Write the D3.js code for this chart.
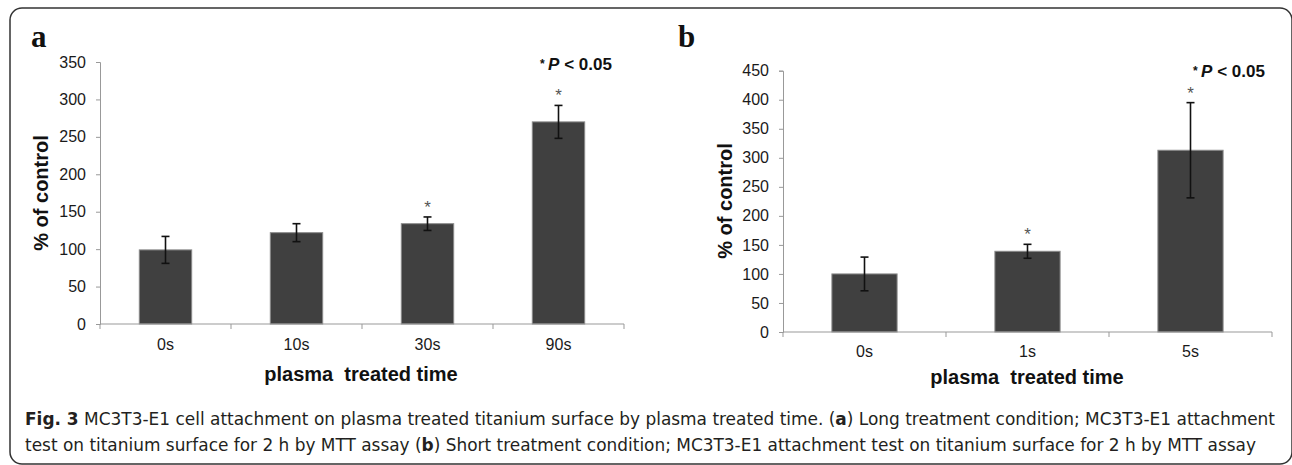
<!DOCTYPE html>
<html>
<head>
<meta charset="utf-8">
<script src="https://cdn.jsdelivr.net/npm/d3@7"></script>
<style>
    body { margin:0; background:#fff; }
    svg { display:block; }
    .tick-label { font-family:'Liberation Sans', Arial, sans-serif; font-size:16px; fill:#1a1a1a; }
    .axis-title { font-family:'Liberation Sans', Arial, sans-serif; font-size:20px; font-weight:bold; fill:#111; }
    .panel-label { font-family:'Liberation Serif', 'Times New Roman', serif; font-size:31px; font-weight:bold; fill:#111; }
    .caption { font-family:'Liberation Sans Narrow', 'DejaVu Sans Condensed', 'Liberation Sans', sans-serif; font-size:18px; fill:#231f20; }
</style>
</head>
<body>
<div class="chart-container"></div>
<script>
// // Data: 讀圖估計的數值
// panel a: long treatment
const catsA = ['0s', '10s', '30s', '90s'];
const meansA = [99, 122, 134, 270];
const errsA = [18, 12, 9, 22];
const starsA = [false, false, true, true];
const ticksA = [0, 50, 100, 150, 200, 250, 300, 350];

// panel b: short treatment
const catsB = ['0s', '1s', '5s'];
const meansB = [100, 139, 313];
const errsB = [29, 12, 82];
const starsB = [false, true, true];
const ticksB = [0, 50, 100, 150, 200, 250, 300, 350, 400, 450];

const captionLines = [
    [['Fig. 3', true], [' MC3T3-E1 cell attachment on plasma treated titanium surface by plasma treated time. (', false], ['a', true], [') Long treatment condition; MC3T3-E1 attachment', false]],
    [['test on titanium surface for 2 h by MTT assay (', false], ['b', true], [') Short treatment condition; MC3T3-E1 attachment test on titanium surface for 2 h by MTT assay', false]]
];

const svg_width = 1292;
const svg_height = 465;

const svg = d3.select('.chart-container').append('svg')
              .attr('width', svg_width).attr('height', svg_height);

// 外框 (圓角)
svg.append('rect')
   .attr('x', 10).attr('y', 8)
   .attr('width', 1282).attr('height', 456)
   .attr('rx', 12).attr('ry', 12)
   .style('fill', 'none').style('stroke', '#333').style('stroke-width', 1.5);

// // 畫一個panel
// opt: 版面位置 (軸的像素範圍)
function drawPanel(cats, means, errs, stars, ticks, opt){
    const g = svg.append('g');

    const yScale = d3.scaleLinear()
                     .domain([0, d3.max(ticks)])
                     .range([opt.y0, opt.y1]);

    const xScale = d3.scaleBand()
                     .domain(cats)
                     .range([opt.x0, opt.x1])
                     .paddingInner(0.6)
                     .paddingOuter(0.3);

    // y軸
    const yAxis = d3.axisLeft(yScale).tickValues(ticks).tickSize(4).tickPadding(10);
    const yAxisDraw = g.append('g')
                       .attr('transform', `translate(${opt.x0},0)`)
                       .call(yAxis);
    yAxisDraw.select('.domain').style('stroke', '#999');
    yAxisDraw.selectAll('.tick line').style('stroke', '#999');
    yAxisDraw.selectAll('.tick text').attr('class', 'tick-label').attr('font-size', null).attr('font-family', null);

    // bars
    g.selectAll('.bar').data(means).join('rect')
     .attr('class', 'bar')
     .attr('x', (d, i) => xScale(cats[i]))
     .attr('y', d => yScale(d))
     .attr('width', xScale.bandwidth())
     .attr('height', d => yScale(0) - yScale(d))
     .style('fill', '#404040')
     .style('stroke', '#8a8a8a')
     .style('stroke-width', 1);

    // x軸: 線跟分隔刻度
    g.append('line')
     .attr('x1', opt.x0).attr('x2', opt.x1)
     .attr('y1', yScale(0)).attr('y2', yScale(0))
     .style('stroke', '#999').style('stroke-width', 1);
    const bounds = d3.range(cats.length + 1).map(i => opt.x0 + i * xScale.step());
    g.selectAll('.xtick').data(bounds).join('line')
     .attr('x1', d => d).attr('x2', d => d)
     .attr('y1', yScale(0)).attr('y2', yScale(0) + 5)
     .style('stroke', '#999');

    // x 標籤
    g.selectAll('.xlabel').data(cats).join('text')
     .attr('class', 'tick-label')
     .attr('x', d => xScale(d) + xScale.bandwidth() / 2)
     .attr('y', yScale(0) + opt.labelGap)
     .attr('text-anchor', 'middle')
     .text(d => d);

    // error bars
    const cx = i => xScale(cats[i]) + xScale.bandwidth() / 2;
    const eb = g.append('g').style('stroke', '#111').style('stroke-width', 1.6);
    means.forEach((m, i) => {
        const top = yScale(m + errs[i]);
        const bot = yScale(m - errs[i]);
        eb.append('line').attr('x1', cx(i)).attr('x2', cx(i)).attr('y1', top).attr('y2', bot);
        eb.append('line').attr('x1', cx(i) - 4).attr('x2', cx(i) + 4).attr('y1', top).attr('y2', top);
        eb.append('line').attr('x1', cx(i) - 4).attr('x2', cx(i) + 4).attr('y1', bot).attr('y2', bot);
    });

    // 顯著性星號
    g.selectAll('.star').data(means.map((m, i) => ({m, i})).filter(d => stars[d.i])).join('text')
     .attr('x', d => cx(d.i))
     .attr('y', d => yScale(d.m + errs[d.i]) - 4)
     .attr('text-anchor', 'middle')
     .style('font-family', "'Liberation Sans', Arial, sans-serif")
     .style('font-size', '17px')
     .style('fill', '#555')
     .text('*');

    // * P < 0.05
    const pText = g.append('text')
                   .attr('x', opt.pX).attr('y', opt.pY)
                   .attr('text-anchor', 'middle')
                   .style('font-family', "'Liberation Sans', Arial, sans-serif")
                   .style('font-weight', 'bold')
                   .style('font-size', '17px')
                   .style('fill', '#111');
    pText.append('tspan').text('* ').style('font-size', '12px').attr('dy', -2);
    pText.append('tspan').text('P').style('font-style', 'italic').attr('dy', 2);
    pText.append('tspan').text(' < 0.05');

    // 軸標題
    g.append('text')
     .attr('class', 'axis-title')
     .attr('x', opt.xTitleX).attr('y', opt.xTitleY)
     .attr('text-anchor', 'middle')
     .attr('xml:space', 'preserve')
     .text('plasma  treated time');

    g.append('text')
     .attr('class', 'axis-title')
     .attr('transform', `translate(${opt.yTitleX},${opt.yTitleY}) rotate(-90)`)
     .attr('text-anchor', 'middle')
     .text('% of control');

    // panel 字母
    g.append('text')
     .attr('class', 'panel-label')
     .attr('x', opt.labelX).attr('y', 47)
     .text(opt.label);
}

drawPanel(catsA, meansA, errsA, starsA, ticksA, {
    x0:100, x1:624, y0:324, y1:62, labelGap:26,
    pX:576, pY:70, xTitleX:361, xTitleY:381,
    yTitleX:48, yTitleY:193, labelX:31, label:'a'
});

drawPanel(catsB, meansB, errsB, starsB, ticksB, {
    x0:783, x1:1272, y0:332, y1:70.7, labelGap:25,
    pX:1229, pY:77, xTitleX:1027, xTitleY:384,
    yTitleX:732, yTitleY:201, labelX:678, label:'b'
});

// // caption
const capEnds = [1275, 1256];
const capY = [425, 451];
captionLines.forEach((line, li) => {
    const t = svg.append('text')
                 .attr('class', 'caption')
                 .attr('x', 25).attr('y', capY[li])
                 .attr('xml:space', 'preserve')
                 .attr('textLength', capEnds[li] - 25)
                 .attr('lengthAdjust', 'spacingAndGlyphs');
    line.forEach(seg => {
        t.append('tspan').text(seg[0]).style('font-weight', seg[1] ? 'bold' : 'normal');
    });
});
</script>
</body>
</html>
